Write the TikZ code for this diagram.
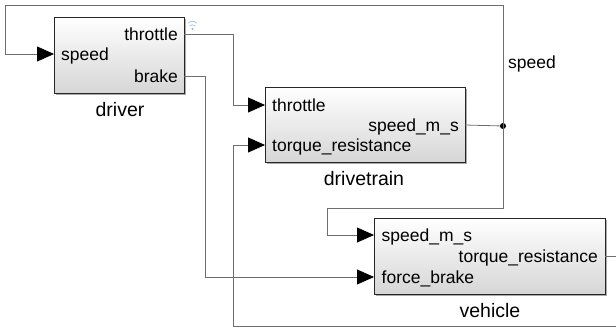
\documentclass[tikz,border=0pt]{standalone}
\usepackage{fontspec}
\setmainfont{Liberation Sans}
\usetikzlibrary{arrows.meta,shadows}
\definecolor{wire}{HTML}{6E6E6E}
\definecolor{boxbot}{HTML}{D6D6D6}
\definecolor{logblue}{HTML}{8DB7E0}
\tikzset{
  block/.style={draw=black!85, line width=0.9pt, top color=white, bottom color=boxbot,
    anchor=north west, inner sep=0pt, outer sep=0pt,
    drop shadow={shadow xshift=2pt, shadow yshift=-2pt, opacity=0.55, fill=black!60}},
  wire/.style={draw=wire, line width=0.8pt},
  inarrow/.style={wire, -{Triangle[length=17pt,width=15pt,color=black]}},
  portL/.style={anchor=base west, inner sep=0pt, font=\fontsize{17.5}{20}\selectfont},
  portR/.style={anchor=base east, inner sep=0pt, font=\fontsize{17.5}{20}\selectfont},
  title/.style={inner sep=0pt, font=\fontsize{19.5}{22}\selectfont},
}
\begin{document}
\begin{tikzpicture}[x=1pt,y=-1pt]
\useasboundingbox (0,0) rectangle (616,332);
% blocks
\node[block, minimum width=130pt, minimum height=76pt] (driver) at (54,17) {};
\node[block, minimum width=200pt, minimum height=75pt] (drivetrain) at (265,87) {};
\node[block, minimum width=231pt, minimum height=76pt] (vehicle) at (374,218) {};
% port coordinates
\coordinate (dSpeed) at (54,54);
\coordinate (dThr) at (184,34);
\coordinate (dBrk) at (184,76);
\coordinate (tThr) at (265,105);
\coordinate (tSpd) at (465,125);
\coordinate (tTrq) at (265,145);
\coordinate (vSpd) at (374,235);
\coordinate (vTrq) at (605,256);
\coordinate (vBrk) at (374,277);
\coordinate (jn) at (503,126);
\coordinate (offR) at (620,256);
% port labels
\node[portL] (lds) at (61,60.3) {speed};
\node[portR] (ldt) at (178,40.3) {throttle};
\node[portR] (ldb) at (178,82.3) {brake};
\node[portL] (ltt) at (272,111.3) {throttle};
\node[portR] (lts) at (459,131.3) {speed\_m\_s};
\node[portL] (ltr) at (272,151.3) {torque\_resistance};
\node[portL] (lvs) at (381.5,241.3) {speed\_m\_s};
\node[portR] (lvt) at (598,262.3) {torque\_resistance};
\node[portL] (lvb) at (381.5,283.3) {force\_brake};
% titles
\node[title] (tdriver) at (120,110) {driver};
\node[title] (tdrive) at (364,179) {drivetrain};
\node[title] (tveh) at (490,311) {vehicle};
\node[title, anchor=west, font=\fontsize{17.5}{20}\selectfont] (tspeed) at (508,64) {speed};
% connectors
\draw[wire] (tSpd) -- (jn);
\fill[black] (jn) circle (3pt);
\draw[inarrow] (jn) -- (503,5) -- (5,5) -- (5,54) -- (dSpeed);
\draw[inarrow] (jn) -- (503,208) -- (327,208) -- (327,235) -- (vSpd);
\draw[inarrow] (dThr) -- (233,34) -- (233,105) -- (tThr);
\draw[inarrow] (dBrk) -- (205,76) -- (205,277) -- (vBrk);
\draw[inarrow] (vTrq) -- (offR) -- (620,326) -- (233,326) -- (233,145) -- (tTrq);
% signal logging icon
\fill[logblue] (192.5,29) circle (1.1pt);
\draw[logblue, line width=0.6pt] (189.5,26) arc[start angle=135, end angle=45, radius=4.2pt];
\draw[logblue, line width=0.6pt] (188,23.2) arc[start angle=135, end angle=45, radius=6.3pt];
\end{tikzpicture}
\end{document}
